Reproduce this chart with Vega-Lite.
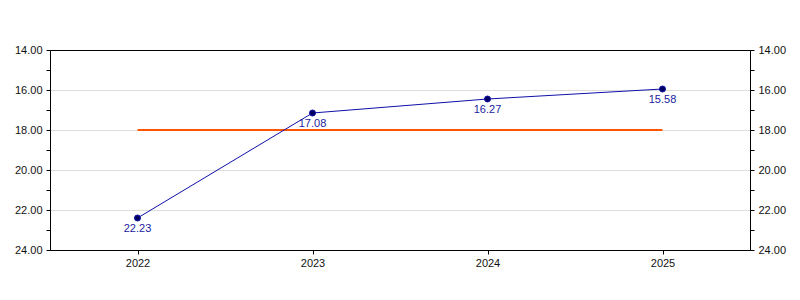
{
  "$schema": "https://vega.github.io/schema/vega-lite/v6.json",
  "width": 700,
  "height": 200,
  "autosize": {"type": "none"},
  "padding": {"left": 50, "top": 50, "right": 50, "bottom": 50},
  "background": "white",
  "config": {
    "view": {"stroke": "black", "strokeWidth": 1},
    "font": "Liberation Sans",
    "axis": {
      "labelFont": "Liberation Sans",
      "labelFontSize": 11,
      "labelColor": "#111111",
      "domainColor": "black",
      "tickColor": "black",
      "tickSize": 4,
      "title": null
    }
  },
  "datasets": {
    "series": [
      {"year": "2022", "value": 22.4, "label": "22.23"},
      {"year": "2023", "value": 17.15, "label": "17.08"},
      {"year": "2024", "value": 16.45, "label": "16.27"},
      {"year": "2025", "value": 15.95, "label": "15.58"}
    ],
    "target": [
      {"year": "2022", "value": 18},
      {"year": "2025", "value": 18}
    ]
  },
  "encoding": {
    "x": {
      "field": "year",
      "type": "ordinal",
      "scale": {"type": "point", "padding": 0.5, "domain": ["2022", "2023", "2024", "2025"]},
      "axis": {"labelAngle": 0, "grid": false, "labelPadding": 3}
    }
  },
  "layer": [
    {
      "data": {"name": "target"},
      "mark": {"type": "line", "color": "#FF5500", "strokeWidth": 2},
      "encoding": {
        "y": {
          "field": "value",
          "type": "quantitative",
          "scale": {"domain": [14, 24], "reverse": true, "nice": false, "zero": false},
          "axis": {
            "orient": "left",
            "values": [14, 15, 16, 17, 18, 19, 20, 21, 22, 23, 24],
            "labelExpr": "datum.value % 2 == 0 ? format(datum.value, '.2f') : ''",
            "grid": true,
            "gridColor": "#dddddd",
            "gridOpacity": {"condition": {"test": "datum.value % 2 == 0 && datum.value > 14 && datum.value < 24", "value": 1}, "value": 0},
            "labelPadding": 4
          }
        }
      }
    },
    {
      "data": {"name": "series"},
      "mark": {"type": "line", "color": "#1010AA", "strokeWidth": 1},
      "encoding": {
        "y": {
          "field": "value",
          "type": "quantitative",
          "axis": {
            "orient": "right",
            "values": [14, 15, 16, 17, 18, 19, 20, 21, 22, 23, 24],
            "labelExpr": "datum.value % 2 == 0 ? format(datum.value, '.2f') : ''",
            "grid": false,
            "labelPadding": 4
          }
        }
      }
    },
    {
      "data": {"name": "series"},
      "mark": {"type": "point", "filled": true, "shape": "circle", "size": 36, "color": "#000060", "stroke": "#1010AA", "strokeWidth": 1, "opacity": 1},
      "encoding": {
        "y": {"field": "value", "type": "quantitative", "axis": null}
      }
    },
    {
      "data": {"name": "series"},
      "mark": {"type": "text", "baseline": "top", "dy": 5, "fontSize": 11, "color": "#1A1AA0", "font": "Liberation Sans"},
      "encoding": {
        "y": {"field": "value", "type": "quantitative", "axis": null},
        "text": {"field": "label"}
      }
    }
  ],
  "resolve": {"axis": {"y": "independent"}}
}
